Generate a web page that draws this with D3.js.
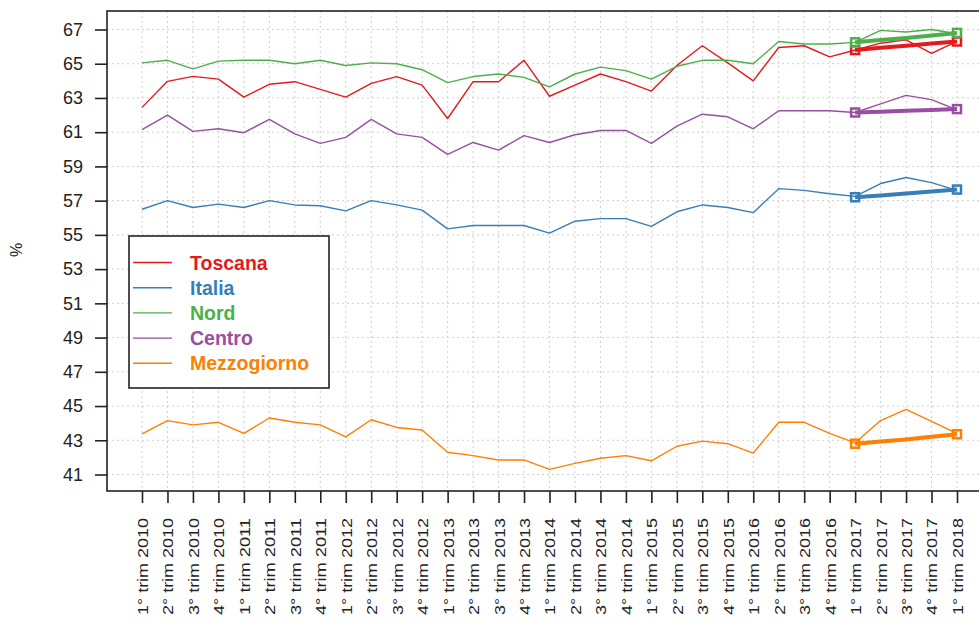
<!DOCTYPE html>
<html>
<head>
<meta charset="utf-8">
<script src="https://cdnjs.cloudflare.com/ajax/libs/d3/7.8.5/d3.min.js"></script>
<style>
  body { margin: 0; background: #fff; }
  svg { display: block; font-family: "Liberation Sans", Arial, sans-serif; }
</style>
</head>
<body>
<svg id="chart" width="979" height="624"></svg>
<script>
// etichette trimestri
const quarters = [
  "1° trim 2010","2° trim 2010","3° trim 2010","4° trim 2010",
  "1° trim 2011","2° trim 2011","3° trim 2011","4° trim 2011",
  "1° trim 2012","2° trim 2012","3° trim 2012","4° trim 2012",
  "1° trim 2013","2° trim 2013","3° trim 2013","4° trim 2013",
  "1° trim 2014","2° trim 2014","3° trim 2014","4° trim 2014",
  "1° trim 2015","2° trim 2015","3° trim 2015","4° trim 2015",
  "1° trim 2016","2° trim 2016","3° trim 2016","4° trim 2016",
  "1° trim 2017","2° trim 2017","3° trim 2017","4° trim 2017",
  "1° trim 2018"
];
const yTicks = [41,43,45,47,49,51,53,55,57,59,61,63,65,67];

const toscana = [62.45,63.97,64.26,64.1,63.05,63.8,63.95,63.5,63.05,63.85,64.25,63.75,61.8,63.95,63.95,65.2,
  63.1,63.75,64.4,63.95,63.4,64.9,66.05,65.05,64.0,65.95,66.05,65.4,65.8,66.2,66.4,65.6,66.3];
const italia = [56.5,57.0,56.6,56.8,56.6,57.0,56.75,56.7,56.4,57.0,56.75,56.45,55.35,55.55,55.55,55.55,
  55.1,55.8,55.95,55.95,55.5,56.35,56.75,56.6,56.3,57.7,57.6,57.4,57.25,58.0,58.35,58.05,57.6];
const nord = [65.05,65.2,64.7,65.15,65.2,65.2,65.0,65.2,64.9,65.05,65.0,64.65,63.9,64.25,64.4,64.2,
  63.65,64.4,64.8,64.6,64.1,64.85,65.2,65.2,65.0,66.3,66.15,66.15,66.25,66.95,66.85,67.0,66.75];
const centro = [61.15,62.0,61.05,61.2,60.97,61.75,60.9,60.35,60.7,61.75,60.9,60.7,59.7,60.4,59.95,60.8,
  60.4,60.85,61.1,61.1,60.35,61.35,62.05,61.9,61.2,62.25,62.25,62.25,62.15,62.65,63.15,62.9,62.3];
const mezzogiorno = [43.37,44.15,43.9,44.05,43.4,44.3,44.05,43.9,43.2,44.2,43.75,43.6,42.3,42.1,41.85,41.85,
  41.3,41.65,41.95,42.1,41.8,42.65,42.95,42.8,42.25,44.05,44.05,43.4,42.85,44.15,44.8,44.1,43.4];

// tendenza 1° trim 2017 - 1° trim 2018
const trendStart = 28;
const trendToscana = [65.8,65.93,66.05,66.18,66.3];
const trendItalia = [57.2,57.3,57.42,57.53,57.65];
const trendNord = [66.25,66.38,66.5,66.65,66.8];
const trendCentro = [62.15,62.2,62.25,62.3,62.35];
const trendMezzogiorno = [42.8,42.93,43.05,43.2,43.35];

const seriesNames = ["Toscana","Italia","Nord","Centro","Mezzogiorno"];
const seriesColors = ["#e41a1c","#377eb8","#4daf4a","#984ea3","#ff7f00"];
const seriesValues = [toscana, italia, nord, centro, mezzogiorno];
const trendValues = [trendToscana, trendItalia, trendNord, trendCentro, trendMezzogiorno];

const svg = d3.select("#chart");
const box = { left: 107, right: 992, top: 11, bottom: 491 };

const x = d3.scaleLinear().domain([0, quarters.length - 1]).range([142, 957]);
const y = d3.scaleLinear().domain([41, 67]).range([474.5, 29.5]);

// griglia
const grid = svg.append("g").attr("stroke", "#cfcfcf").attr("stroke-width", 1)
  .attr("stroke-dasharray", "2,3");
grid.selectAll(".gx").data(quarters).enter().append("line")
  .attr("x1", (d, i) => x(i)).attr("x2", (d, i) => x(i))
  .attr("y1", box.top).attr("y2", box.bottom);
grid.selectAll(".gy").data(yTicks).enter().append("line")
  .attr("x1", box.left).attr("x2", box.right)
  .attr("y1", d => y(d)).attr("y2", d => y(d));

// serie
const line = d3.line().x((d, i) => x(i)).y(d => y(d));
seriesValues.forEach((vals, k) => {
  svg.append("path").datum(vals)
    .attr("fill", "none").attr("stroke", seriesColors[k])
    .attr("stroke-width", 1.4).attr("stroke-linejoin", "round")
    .attr("d", line);
});

// linee di tendenza
const tline = d3.line().x((d, i) => x(trendStart + i)).y(d => y(d));
trendValues.forEach((vals, k) => {
  svg.append("path").datum(vals)
    .attr("fill", "none").attr("stroke", seriesColors[k])
    .attr("stroke-width", 4).attr("d", tline);
  const ends = [[trendStart, vals[0]], [trendStart + vals.length - 1, vals[vals.length - 1]]];
  svg.selectAll(null).data(ends).enter().append("rect")
    .attr("x", d => x(d[0]) - 4).attr("y", d => y(d[1]) - 4)
    .attr("width", 8).attr("height", 8)
    .attr("fill", "none").attr("stroke", seriesColors[k]).attr("stroke-width", 2.5);
});

// riquadro
svg.append("rect")
  .attr("x", box.left).attr("y", box.top)
  .attr("width", box.right - box.left).attr("height", box.bottom - box.top)
  .attr("fill", "none").attr("stroke", "#222").attr("stroke-width", 1.6);

// asse y
const yAxis = svg.append("g").attr("transform", `translate(${box.left},0)`)
  .call(d3.axisLeft(y).tickValues(yTicks).tickSize(12).tickPadding(12).tickFormat(d3.format("d")));
yAxis.select(".domain").remove();
yAxis.selectAll(".tick line").attr("stroke", "#222").attr("stroke-width", 1.6);
yAxis.selectAll(".tick text").attr("font-size", 18).attr("fill", "#222")
  .attr("font-family", "Liberation Sans, Arial, sans-serif");

// asse x
const xAxis = svg.append("g").attr("transform", `translate(0,${box.bottom})`)
  .call(d3.axisBottom(x).tickValues(d3.range(quarters.length)).tickSize(12)
    .tickFormat(i => quarters[i]));
xAxis.select(".domain").remove();
xAxis.selectAll(".tick line").attr("stroke", "#222").attr("stroke-width", 1.6);
xAxis.selectAll(".tick text")
  .attr("font-size", 15.5).attr("fill", "#222")
  .attr("font-family", "Liberation Sans, Arial, sans-serif")
  .attr("text-anchor", "end").attr("dy", "0.35em")
  .attr("transform", "translate(0,27) rotate(-90)")
  .attr("x", 0).attr("y", 0)
  .attr("textLength", 97).attr("lengthAdjust", "spacingAndGlyphs");

// titolo asse y
svg.append("text").attr("transform", "translate(22,250) rotate(-90)")
  .attr("text-anchor", "middle").attr("font-size", 16).attr("fill", "#222").text("%");

// legenda
const legend = svg.append("g");
legend.append("rect").attr("x", 129).attr("y", 236).attr("width", 200).attr("height", 152)
  .attr("fill", "#fff").attr("stroke", "#222").attr("stroke-width", 1.6);
const rows = legend.selectAll(".row").data(seriesNames).enter().append("g")
  .attr("transform", (d, i) => `translate(0,${262.5 + i * 25.2})`);
rows.append("line").attr("x1", 133).attr("x2", 172)
  .attr("stroke", (d, i) => seriesColors[i]).attr("stroke-width", 1.4);
rows.append("text").attr("x", 190).attr("dy", "0.36em")
  .attr("font-size", 19.5).attr("font-weight", "bold")
  .attr("fill", (d, i) => seriesColors[i]).text(d => d);
</script>
</body>
</html>
